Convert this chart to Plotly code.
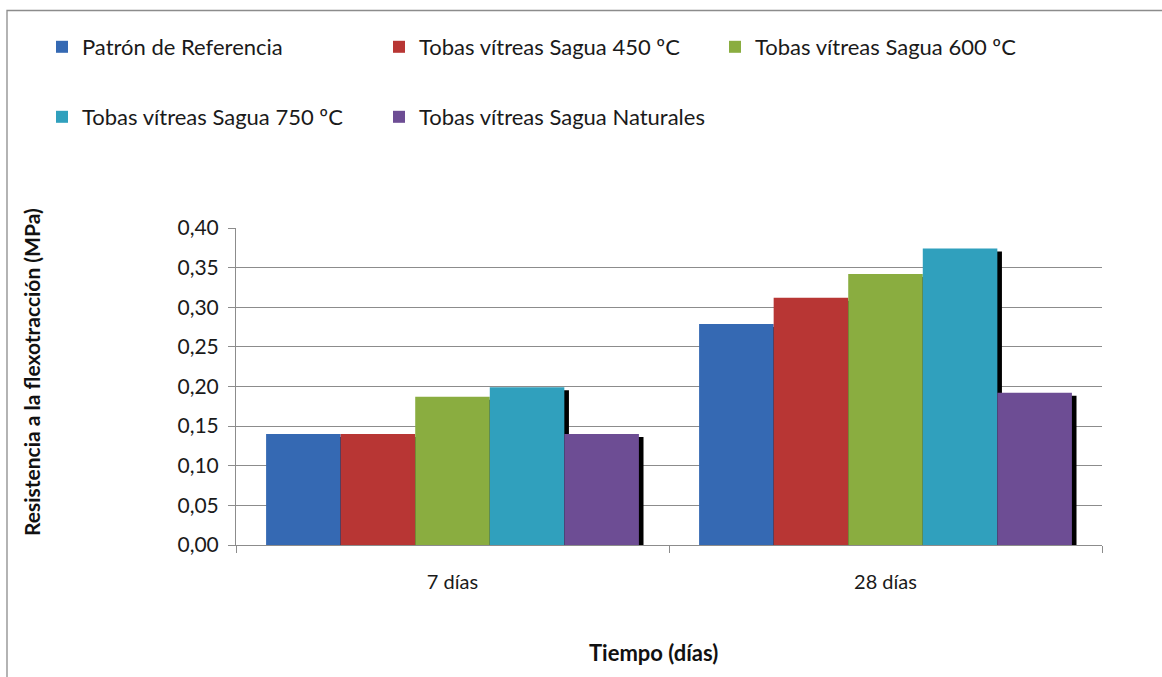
import plotly.graph_objects as go

categories = ["7 días", "28 días"]
series_names = [
    "Patrón de Referencia",
    "Tobas vítreas Sagua 450 ºC",
    "Tobas vítreas Sagua 600 ºC",
    "Tobas vítreas Sagua 750 ºC",
    "Tobas vítreas Sagua Naturales",
]
patron = [0.140, 0.279]
sagua_450 = [0.140, 0.312]
sagua_600 = [0.187, 0.342]
sagua_750 = [0.199, 0.374]
sagua_nat = [0.140, 0.192]
series_values = [patron, sagua_450, sagua_600, sagua_750, sagua_nat]
y_ticks = [0.0, 0.05, 0.10, 0.15, 0.20, 0.25, 0.30, 0.35, 0.40]
y_tick_labels = ["0,00", "0,05", "0,10", "0,15", "0,20", "0,25", "0,30", "0,35", "0,40"]

colors = ["#3569b3", "#b83634", "#8aad40", "#30a0bd", "#6d4d94"]

W, H = 1162, 677
ML, MR, MT, MB = 236, 60, 228, 132
plot_w = W - ML - MR
plot_h = H - MT - MB
y_max = 0.40

gap = 0.139
bw = (1 - gap) / len(series_names)
px_per_cat = plot_w / len(categories)
shadow_dx = 4.6 / px_per_cat
shadow_dy = 3.0 * y_max / plot_h

FONT = "Lato"

fig = go.Figure()
legend_pos = [(62, 47), (399, 47), (735, 47), (62, 117), (399, 117)]
for i, (name, vals, col) in enumerate(zip(series_names, series_values, colors)):
    off = -0.5 + gap / 2 + i * bw
    fig.add_trace(go.Bar(
        x=categories, y=[v - shadow_dy for v in vals],
        offset=off + shadow_dx, width=bw,
        marker=dict(color="#000000", line=dict(width=0)),
        showlegend=False, hoverinfo="skip",
    ))
    lg = "legend" if i == 0 else f"legend{i + 1}"
    fig.add_trace(go.Bar(
        x=categories, y=vals, name=name,
        offset=off, width=bw,
        marker=dict(color=col, line=dict(width=0)),
        legend=lg,
    ))

layout_legends = {}
for i, (lx, ly) in enumerate(legend_pos):
    key = "legend" if i == 0 else f"legend{i + 1}"
    layout_legends[key] = dict(
        xref="container", yref="container",
        x=(lx - 20) / W, y=1 - ly / H,
        xanchor="left", yanchor="middle",
        bgcolor="rgba(0,0,0,0)", borderwidth=0,
        font=dict(family=FONT, size=22, color="#1a1a1a"),
        itemclick=False,
    )

fig.update_layout(
    width=W, height=H,
    margin=dict(l=ML, r=MR, t=MT, b=MB, autoexpand=False),
    paper_bgcolor="white", plot_bgcolor="white",
    barmode="overlay",
    showlegend=True,
    font=dict(family=FONT, color="#1a1a1a"),
    xaxis=dict(
        type="category", categoryorder="array", categoryarray=categories,
        range=[-0.5, 1.5],
        showline=True, linecolor="#8c8c8c", linewidth=1,
        ticks="outside", tickson="boundaries", ticklen=7, tickcolor="#8c8c8c",
        tickfont=dict(family=FONT, size=20, color="#1a1a1a"),
        ticklabelstandoff=19, tickangle=0,
        showgrid=False,
    ),
    yaxis=dict(
        range=[0, y_max],
        tickvals=y_ticks, ticktext=y_tick_labels,
        showline=True, linecolor="#8c8c8c", linewidth=1,
        ticks="outside", ticklen=7, tickcolor="#8c8c8c",
        tickfont=dict(family=FONT, size=21, color="#1a1a1a"),
        ticklabelstandoff=5,
        showgrid=True, gridcolor="#8c8c8c", gridwidth=1,
        zeroline=False,
    ),
    **layout_legends,
)

# outer chart-area frame (cut off at right and bottom)
fig.add_shape(type="rect", xref="paper", yref="paper",
              x0=(7 - ML) / plot_w, x1=(W + 40 - ML) / plot_w,
              y0=(MT + plot_h - H - 40) / plot_h, y1=(MT + plot_h - 10.5) / plot_h,
              line=dict(color="#8c8c8c", width=1.3), fillcolor="rgba(0,0,0,0)",
              layer="below")

fig.add_annotation(
    text="<b>Tiempo (días)</b>", xref="paper", yref="paper",
    x=(653 - ML) / plot_w, y=(MT + plot_h - 652) / plot_h,
    xanchor="center", yanchor="middle", showarrow=False,
    font=dict(family=FONT, size=22, color="#111111"),
)
fig.add_annotation(
    text="<b>Resistencia a la flexotracción (MPa)</b>", xref="paper", yref="paper",
    x=(31 - ML) / plot_w, y=(MT + plot_h - 372) / plot_h,
    xanchor="center", yanchor="middle", showarrow=False, textangle=-90,
    font=dict(family=FONT, size=21, color="#111111"),
)

fig.write_html("out.html")
